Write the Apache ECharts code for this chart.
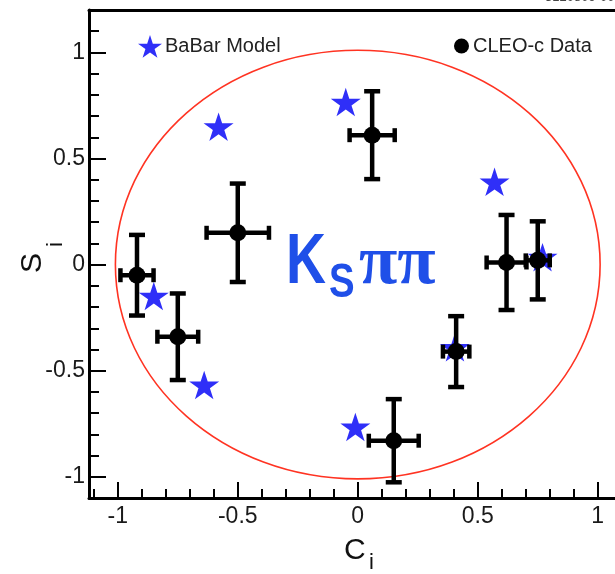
<!DOCTYPE html>
<html>
<head>
<meta charset="utf-8">
<script src="https://cdn.jsdelivr.net/npm/echarts@6.0.0/dist/echarts.min.js"></script>
<style>html,body{margin:0;padding:0;background:#fff;}#c{width:615px;height:574px;}</style>
</head>
<body>
<div id="c"></div>
<script>
// CLEO-c data points (c_i, s_i) with errors
const cleoC    = [-0.92, -0.75, -0.50, 0.06, 0.41, 0.62, 0.75, 0.15];
const cleoS    = [-0.05, -0.34, 0.15, 0.61, -0.41, 0.01, 0.02, -0.83];
const cleoCErr = [0.069, 0.085, 0.13, 0.094, 0.055, 0.083, 0.05, 0.104];
const cleoSErr = [0.19, 0.204, 0.232, 0.207, 0.167, 0.224, 0.184, 0.196];
// BaBar model predictions
const babarC = [-0.05, -0.58, 0.57, 0.77, -0.85, -0.64, -0.01, 0.405];
const babarS = [0.766, 0.65, 0.39, 0.035, -0.148, -0.567, -0.765, -0.39];
// unit circle radius
const circleRadius = [1.01];
// ticks
const majorTicks = [-1, -0.5, 0, 0.5, 1];
const xMinorTicks = [-1.1,-1.0,-0.9,-0.8,-0.7,-0.6,-0.5,-0.4,-0.3,-0.2,-0.1,0,0.1,0.2,0.3,0.4,0.5,0.6,0.7,0.8,0.9,1.0];
const yMinorTicks = [-1.1,-1.0,-0.9,-0.8,-0.7,-0.6,-0.5,-0.4,-0.3,-0.2,-0.1,0,0.1,0.2,0.3,0.4,0.5,0.6,0.7,0.8,0.9,1.0,1.1];

const STAR = 'path://M0,-10 L2.245,-3.09 L9.51,-3.09 L3.63,1.18 L5.88,8.09 L0,3.82 L-5.88,8.09 L-3.63,1.18 L-9.51,-3.09 L-2.245,-3.09 Z';
const labelFont = 'Liberation Sans';
const X_MIN = -1.12, X_MAX = 1.072, Y_MIN = -1.1, Y_MAX = 1.2;

const chart = echarts.init(document.getElementById('c'), null, {renderer:'canvas'});

function mkX(kind){
  const major = kind === 'major', top = kind === 'top';
  return {
    type:'value', min:X_MIN, max:X_MAX, position: top ? 'top' : 'bottom',
    axisLine:{show:major || top, onZero:false, lineStyle:{color:'#000', width:3}},
    axisTick:{show:!top, inside:true, length: major?16:9, customValues: major?majorTicks:xMinorTicks,
              lineStyle:{color:'#000', width:2}},
    axisLabel:{show:major, customValues:majorTicks, fontSize:23, fontFamily:labelFont, color:'#1a1a1a', margin:7},
    splitLine:{show:false}
  };
}
function mkY(major){
  return {
    type:'value', min:Y_MIN, max:Y_MAX, position:'left',
    axisLine:{show:major, onZero:false, lineStyle:{color:'#000', width:3}},
    axisTick:{show:true, inside:true, length: major?17:10, customValues: major?majorTicks:yMinorTicks,
              lineStyle:{color:'#000', width:2}},
    axisLabel:{show:major, customValues:majorTicks, fontSize:23, fontFamily:labelFont, color:'#1a1a1a', margin:4},
    splitLine:{show:false}
  };
}

const cleoData = cleoC.map((c,i)=>[c, cleoS[i], cleoCErr[i], cleoSErr[i]]);
const babarData = babarC.map((c,i)=>[c, babarS[i]]);

const option = {
  animation:false,
  backgroundColor:'#fff',
  grid:{left:89, top:10, right:0, bottom:76, show:false},
  xAxis:[mkX('major'), mkX('minor'), mkX('top')],
  yAxis:[mkY(true), mkY(false)],
  legend:[
    {data:[{name:'BaBar Model'}], left:133, top:30, itemWidth:24, itemHeight:23, itemGap:0,
     textStyle:{fontSize:20, fontFamily:labelFont, color:'#222', padding:[0,0,0,-2]}},
    {data:[{name:'CLEO-c Data', icon:'circle'}], left:449, top:31, itemWidth:15, itemHeight:15,
     textStyle:{fontSize:20, fontFamily:labelFont, color:'#222', lineHeight:20, padding:[0,0,0,-1]}}
  ],
  series:[
    {
      name:'circle', type:'custom', data:[[circleRadius[0]]], silent:true, z:1, clip:false,
      renderItem:function(params, api){
        const r = api.value(0);
        const c0 = api.coord([0,0]);
        const cx = api.coord([r,0]);
        const cy = api.coord([0,r]);
        return {type:'ellipse', shape:{cx:c0[0], cy:c0[1], rx:Math.abs(cx[0]-c0[0]), ry:Math.abs(c0[1]-cy[1])},
                style:{stroke:'#ff3322', fill:null, lineWidth:1.6}};
      }
    },
    {
      name:'BaBar Model', type:'scatter', data:babarData, symbol:STAR, symbolSize:[30,28.5], z:3,
      itemStyle:{color:'#2f2ff8', opacity:1}
    },
    {
      name:'CLEO-c Data', type:'custom', data:cleoData, z:5, clip:false,
      itemStyle:{color:'#000'},
      encode:{x:0, y:1},
      renderItem:function(params, api){
        const x = api.value(0), y = api.value(1), ex = api.value(2), ey = api.value(3);
        const c = api.coord([x,y]);
        const l = api.coord([x-ex,y]), r = api.coord([x+ex,y]);
        const t = api.coord([x,y+ey]), b = api.coord([x,y-ey]);
        const st = {stroke:'#000', lineWidth:4.5};
        const cw = 8, ch = 7;
        return {type:'group', children:[
          {type:'line', shape:{x1:l[0], y1:c[1], x2:r[0], y2:c[1]}, style:st},
          {type:'line', shape:{x1:c[0], y1:t[1], x2:c[0], y2:b[1]}, style:st},
          {type:'line', shape:{x1:c[0]-cw, y1:t[1], x2:c[0]+cw, y2:t[1]}, style:st},
          {type:'line', shape:{x1:c[0]-cw, y1:b[1], x2:c[0]+cw, y2:b[1]}, style:st},
          {type:'line', shape:{x1:l[0], y1:c[1]-ch, x2:l[0], y2:c[1]+ch}, style:st},
          {type:'line', shape:{x1:r[0], y1:c[1]-ch, x2:r[0], y2:c[1]+ch}, style:st},
          {type:'circle', shape:{cx:c[0], cy:c[1], r:8.5}, style:{fill:'#000'}}
        ]};
      }
    }
  ],
  graphic:[
    {type:'text', x:545, y:-9, style:{text:'3120809-002', font:'13px Liberation Sans', fill:'#444'}},
    {type:'text', x:286, y:228, scaleX:0.78, style:{text:'K', font:'bold 71px Liberation Sans', fill:'#1f4fe8'}},
    {type:'text', x:329, y:260, scaleX:0.8, style:{text:'S', font:'bold 48px Liberation Sans', fill:'#1f4fe8'}},
    {type:'text', x:359, y:230, style:{text:'ππ', font:'bold 70px Liberation Serif', fill:'#1f4fe8'}},
    {type:'text', x:344, y:536, style:{text:'C', font:'30px Liberation Sans', fill:'#111'}},
    {type:'text', x:369, y:552, style:{text:'i', font:'22px Liberation Sans', fill:'#111'}},
    {type:'text', x:18, y:273, rotation:Math.PI/2, style:{text:'S', font:'30px Liberation Sans', fill:'#111'}},
    {type:'text', x:45, y:247, rotation:Math.PI/2, style:{text:'i', font:'22px Liberation Sans', fill:'#111'}}
  ]
};
chart.setOption(option);
</script>
</body>
</html>
